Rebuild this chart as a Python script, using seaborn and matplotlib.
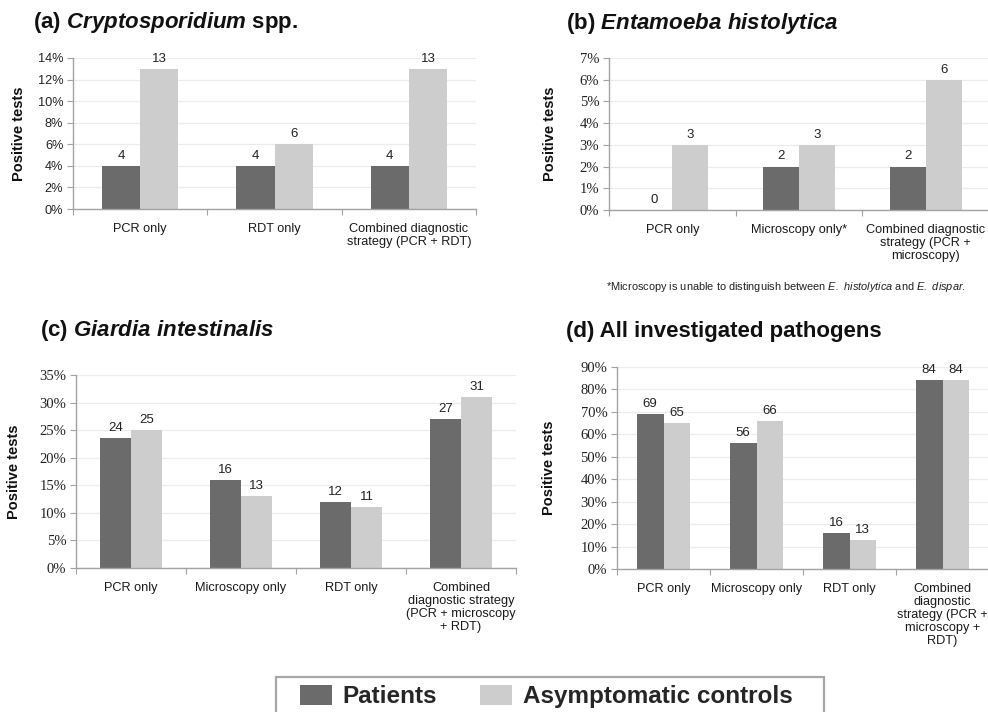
import numpy as np
import pandas as pd
import matplotlib
matplotlib.use("Agg")
import matplotlib.pyplot as plt
from matplotlib.patches import Patch, Rectangle
from matplotlib.ticker import PercentFormatter, MultipleLocator, FixedLocator
import seaborn as sns

# ---- data -------------------------------------------------------------
groups = ["Patients", "Asymptomatic controls"]

crypto_categories = ["PCR only", "RDT only",
                     "Combined diagnostic\nstrategy (PCR + RDT)"]
crypto_patients = [4, 4, 4]
crypto_controls = [13, 6, 13]

entamoeba_categories = ["PCR only", "Microscopy only*",
                        "Combined diagnostic\nstrategy (PCR +\nmicroscopy)"]
entamoeba_patients = [0, 2, 2]
entamoeba_controls = [3, 3, 6]

giardia_categories = ["PCR only", "Microscopy only", "RDT only",
                      "Combined\ndiagnostic strategy\n(PCR + microscopy\n+ RDT)"]
giardia_patients = [23.6, 16, 12, 27]
giardia_controls = [25, 13, 11, 31]

all_categories = ["PCR only", "Microscopy only", "RDT only",
                  "Combined\ndiagnostic\nstrategy (PCR +\nmicroscopy +\nRDT)"]
all_patients = [69, 56, 16, 84]
all_controls = [65, 66, 13, 84]

# ---- style -------------------------------------------------------------
sns.set_theme(style="white")
plt.rcParams["font.family"] = ["Liberation Sans", "DejaVu Sans"]
plt.rcParams["mathtext.fontset"] = "custom"
plt.rcParams["mathtext.it"] = "Liberation Sans:italic:bold"
plt.rcParams["mathtext.rm"] = "Liberation Sans:bold"
plt.rcParams["mathtext.cal"] = "Liberation Sans:italic"

DARK = "#6b6b6b"
LIGHT = "#cdcdcd"
SPINE = "#a3a3a3"
GRID = "#ececec"
palette = {groups[0]: DARK, groups[1]: LIGHT}

W, H = 988, 712
fig = plt.figure(figsize=(W / 100, H / 100), dpi=100)


def px_axes(left, top, right, bottom):
    return fig.add_axes([left / W, 1 - bottom / H, (right - left) / W, (bottom - top) / H])


def panel(ax, cats, pat, ctl, ymax, step, serif_ticks, ylabel_x):
    df = pd.DataFrame({
        "category": cats * 2,
        "group": [groups[0]] * len(cats) + [groups[1]] * len(cats),
        "value": list(pat) + list(ctl),
    })
    sns.barplot(data=df, x="category", y="value", hue="group", order=cats,
                hue_order=groups, palette=palette, width=0.57, gap=0,
                linewidth=0, saturation=1, legend=False, ax=ax)
    for cont in ax.containers:
        ax.bar_label(cont, fmt="{:.0f}", padding=3, fontsize=9.5, color="#222222")

    n = len(cats)
    ax.set_xlim(-0.5, n - 0.5)
    ax.set_ylim(0, ymax)
    ax.yaxis.set_major_locator(MultipleLocator(step))
    ax.yaxis.set_major_formatter(PercentFormatter(decimals=0))
    ax.grid(axis="y", color=GRID, linewidth=0.9)
    ax.set_axisbelow(True)

    for s in ("top", "right"):
        ax.spines[s].set_visible(False)
    for s in ("left", "bottom"):
        ax.spines[s].set_color(SPINE)
        ax.spines[s].set_linewidth(1.0)

    ax.tick_params(axis="y", which="major", left=True, length=4, width=0.8,
                   color=SPINE, pad=3, labelcolor="#222222",
                   labelsize=10.5 if serif_ticks else 9.2)
    if serif_ticks:
        for t in ax.get_yticklabels():
            t.set_fontfamily("Liberation Serif")

    ax.xaxis.set_minor_locator(FixedLocator(np.arange(n + 1) - 0.5))
    ax.tick_params(axis="x", which="minor", bottom=True, length=4, width=0.8,
                   color=SPINE)
    ax.tick_params(axis="x", which="major", bottom=False, length=0, pad=10,
                   labelsize=9.2, labelcolor="#1a1a1a")
    for t in ax.get_xticklabels():
        t.set_linespacing(1.12)
        t.set_verticalalignment("top")

    ax.set_xlabel("")
    ax.set_ylabel("Positive tests", fontsize=10.5, fontweight="bold",
                  color="#111111", va="center")
    ax.yaxis.set_label_coords(ylabel_x, 0.5)


ax_a = px_axes(73, 58, 476, 209)
panel(ax_a, crypto_categories, crypto_patients, crypto_controls, 14, 2, False,
      (19 - 73) / 403)

ax_b = px_axes(609, 58, 989, 210)
panel(ax_b, entamoeba_categories, entamoeba_patients, entamoeba_controls, 7, 1, True,
      (550 - 609) / 380)

ax_c = px_axes(76, 375, 516, 568)
panel(ax_c, giardia_categories, giardia_patients, giardia_controls, 35, 5, True,
      (14 - 76) / 440)

ax_d = px_axes(617, 367, 989, 569)
panel(ax_d, all_categories, all_patients, all_controls, 90, 10, True,
      (549 - 617) / 372)

# ---- panel titles --------------------------------------------------------
title_kw = dict(fontsize=16, fontweight="bold", color="#111111", va="baseline",
                ha="left")
fig.text(33 / W, 1 - 28 / H, r"(a) $Cryptosporidium$ spp.", **title_kw)
fig.text(566 / W, 1 - 29 / H, r"(b) $Entamoeba\ histolytica$", **title_kw)
fig.text(40 / W, 1 - 336 / H, r"(c) $Giardia\ intestinalis$", **title_kw)
fig.text(566 / W, 1 - 337 / H, "(d) All investigated pathogens", **title_kw)

# footnote under panel (b)
fig.text(606 / W, 1 - 290 / H,
         r"*Microscopy is unable to distinguish between $\mathcal{E.}$"
         r"$\mathcal{\ histolytica}$ and $\mathcal{E.}$$\mathcal{\ dispar}$.",
         fontsize=7.9, color="#222222", va="baseline", ha="left")

# ---- legend ----------------------------------------------------------------
fig.add_artist(Rectangle((276 / W, 1 - 730 / H), (824 - 276) / W, (730 - 677) / H,
                         transform=fig.transFigure, facecolor="white",
                         edgecolor="#a8a8a8", linewidth=1.6))
handles = [Patch(facecolor=DARK, edgecolor="none"),
           Patch(facecolor=LIGHT, edgecolor="none")]
fig.legend(handles, groups, loc="center left",
           bbox_to_anchor=(300 / W, 1 - 696.5 / H), ncol=2, frameon=False,
           borderpad=0, borderaxespad=0, handlelength=1.31, handleheight=0.94,
           handletextpad=0.45, columnspacing=1.76,
           prop={"family": "Liberation Sans", "weight": "bold", "size": 17.5})

fig.savefig("out.png", dpi=100)
